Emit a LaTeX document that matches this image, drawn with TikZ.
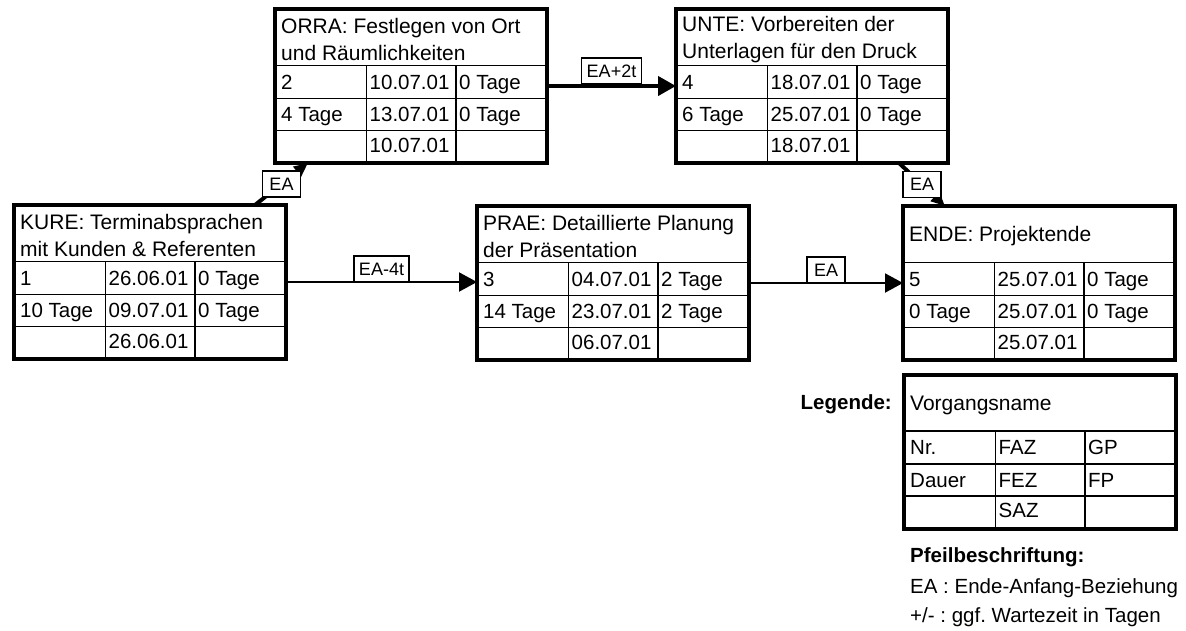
\documentclass[tikz,border=0pt]{standalone}
\usepackage{fontspec}
\setmainfont{Liberation Sans}
\usepackage{tikz}
\usetikzlibrary{positioning,arrows.meta,calc}

\newcommand{\felder}[9]{%
  \begin{scope}[shift={(#1.north west)}]
    \draw[raster] (0,56.5) -- (272,56.5) (0,89.5) -- (272,89.5) (0,121.5) -- (272,121.5)
      (91.5,56.5) -- (91.5,154) (181,56.5) -- (181,154);
    \node[titel] (#1-name) at (6,30.5) {#2};
    \node[zelle] (#1-nr) at (6,80) {#3};
    \node[zelle] (#1-faz) at (94.5,80) {#4};
    \node[zelle] (#1-gp) at (184,80) {#5};
    \node[zelle] (#1-dauer) at (6,112.5) {#6};
    \node[zelle] (#1-fez) at (94.5,112.5) {#7};
    \node[zelle] (#1-fp) at (184,112.5) {#8};
    \node[zelle] (#1-saz) at (94.5,143) {#9};
  \end{scope}}

\begin{document}
\frenchspacing
\begin{tikzpicture}[
    x=1pt, y=-1pt,
    vorgang/.style={
        rectangle,
        draw,
        line width=4pt,
        minimum width=272pt,
        minimum height=154pt,
        inner sep=0pt,
        outer sep=0pt,
        anchor=north west
    },
    raster/.style={line width=1.8pt},
    titel/.style={
        anchor=west,
        align=left,
        inner sep=0pt,
        font=\fontsize{21}{27}\selectfont
    },
    zelle/.style={
        anchor=base west,
        inner sep=0pt,
        font=\fontsize{20.5}{24}\selectfont
    },
    etikett/.style={
        draw,
        fill=white,
        line width=1.5pt,
        minimum width=38pt,
        minimum height=26pt,
        inner xsep=5pt,
        inner ysep=0pt,
        outer sep=0pt,
        font=\fontsize{18}{20}\selectfont
    },
    pfeil/.style={
        -{Triangle[length=18pt,width=19pt]},
        line width=2pt
    },
    kritisch/.style={pfeil, line width=4pt},
    schraeg/.style={
        -{Triangle[length=14pt,width=12pt]},
        line width=4pt
    },
    fett/.style={inner sep=0pt, font=\bfseries\fontsize{20.5}{24}\selectfont},
    notiz/.style={anchor=base west, inner sep=0pt, font=\fontsize{20.5}{24}\selectfont}
]

\useasboundingbox (0,0) rectangle (1186,630);

\node[vorgang] (kure) at (14,205) {};
\node[vorgang] (orra) at (275,9) {};
\node[vorgang] (unte) at (676,9) {};
\node[vorgang] (prae) at (477,206) {};
\node[vorgang] (ende) at (903,206) {};
\node[vorgang] (legende) at (904,374.5) {};

\felder{kure}{KURE: Terminabsprachen\\mit Kunden \& Referenten}{1}{26.06.01}{0 Tage}{10 Tage}{09.07.01}{0 Tage}{26.06.01}
\felder{orra}{ORRA: Festlegen von Ort\\und Räumlichkeiten}{2}{10.07.01}{0 Tage}{4 Tage}{13.07.01}{0 Tage}{10.07.01}
\felder{unte}{UNTE: Vorbereiten der\\Unterlagen für den Druck}{4}{18.07.01}{0 Tage}{6 Tage}{25.07.01}{0 Tage}{18.07.01}
\felder{prae}{PRAE: Detaillierte Planung\\der Präsentation}{3}{04.07.01}{2 Tage}{14 Tage}{23.07.01}{2 Tage}{06.07.01}
\felder{ende}{ENDE: Projektende}{5}{25.07.01}{0 Tage}{0 Tage}{25.07.01}{0 Tage}{25.07.01}
\felder{legende}{Vorgangsname}{Nr.}{FAZ}{GP}{Dauer}{FEZ}{FP}{SAZ}

\draw[pfeil] (kure.east) -- (kure.east -| prae.west)
    node[etikett, midway, anchor=south] (ea4t) {EA-4t};
\draw[pfeil] (prae.east) -- (prae.east -| ende.west)
    node[etikett, midway, anchor=south] (ea3) {EA};
\draw[kritisch] (orra.east) -- (orra.east -| unte.west)
    node[etikett, midway, anchor=south, yshift=2pt] (ea2t) {EA+2t};
\draw[schraeg] ([xshift=-31pt]kure.north east) -- ([xshift=33pt]orra.south west)
    node[etikett, midway] (ea1) {EA};
\draw[schraeg] ([xshift=-49pt]unte.south east) -- ([xshift=42pt]ende.north west)
    node[etikett, midway] (ea4) {EA};

\node[fett, anchor=base east] (legtitel) at ($(legende.north west)+(-12,35)$) {Legende:};
\node[fett, anchor=base west] (pfeiltitel) at ($(legende.south west)+(6,33.5)$) {Pfeilbeschriftung:};
\node[notiz] (erkl1) at ($(legende.south west)+(6,64.5)$) {EA : Ende-Anfang-Beziehung};
\node[notiz] (erkl2) at ($(legende.south west)+(6,93.5)$) {+/- : ggf. Wartezeit in Tagen};

\end{tikzpicture}
\end{document}
